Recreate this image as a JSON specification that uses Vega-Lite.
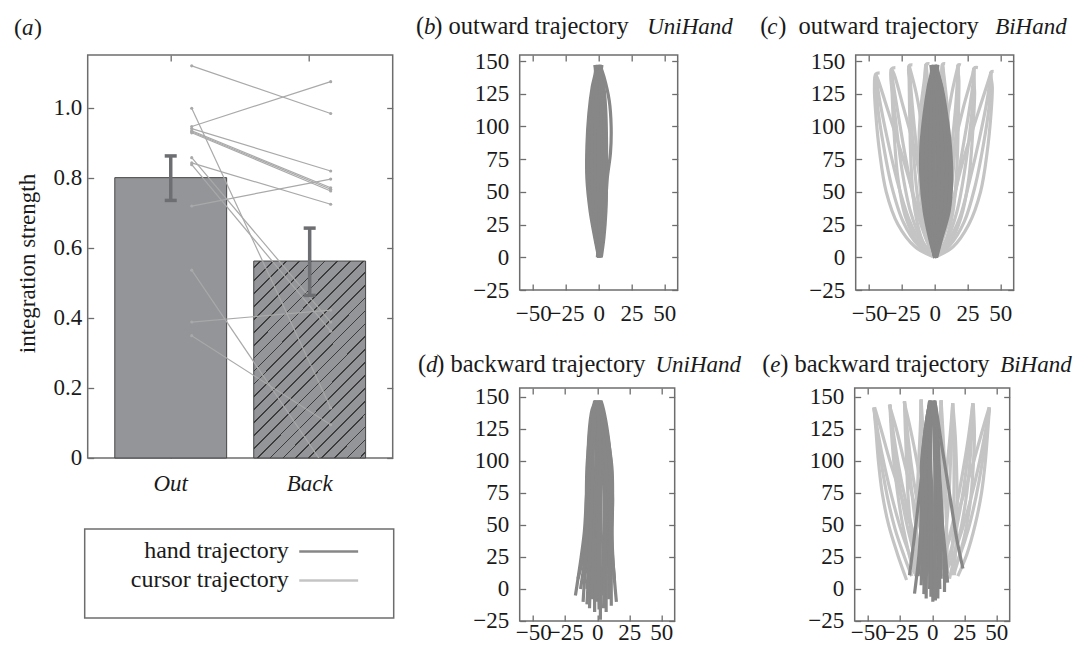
{
"$schema": "https://vega.github.io/schema/vega-lite/v6.json",
"background": "white",
"padding": {"left": 11.7, "top": 12, "right": 0, "bottom": 0},
"autosize": {"type": "pad"},
"datasets": {
"bars": [{"cond":"Out","mean":0.80,"lo":0.735,"hi":0.862},{"cond":"Back","mean":0.562,"lo":0.464,"hi":0.656}],
"subj": [
{"s":1,"cond":"Out","v":1.119},{"s":1,"cond":"Back","v":0.983},
{"s":2,"cond":"Out","v":0.946},{"s":2,"cond":"Back","v":1.074},
{"s":3,"cond":"Out","v":0.940},{"s":3,"cond":"Back","v":0.819},
{"s":4,"cond":"Out","v":0.934},{"s":4,"cond":"Back","v":0.771},
{"s":5,"cond":"Out","v":0.931},{"s":5,"cond":"Back","v":0.767},
{"s":6,"cond":"Out","v":0.928},{"s":6,"cond":"Back","v":0.762},
{"s":7,"cond":"Out","v":0.998},{"s":7,"cond":"Back","v":0.143},
{"s":8,"cond":"Out","v":0.857},{"s":8,"cond":"Back","v":0.388},
{"s":9,"cond":"Out","v":0.837},{"s":9,"cond":"Back","v":0.362},
{"s":10,"cond":"Out","v":0.842},{"s":10,"cond":"Back","v":0.724},
{"s":11,"cond":"Out","v":0.719},{"s":11,"cond":"Back","v":0.796},
{"s":12,"cond":"Out","v":0.536},{"s":12,"cond":"Back","v":-0.05},
{"s":13,"cond":"Out","v":0.388},{"s":13,"cond":"Back","v":0.422},
{"s":14,"cond":"Out","v":0.349},{"s":14,"cond":"Back","v":0.095}
],
"b": [
{"t":"h","id":1,"x":0,"y":0},{"t":"h","id":1,"x":-3,"y":15},{"t":"h","id":1,"x":-6.5,"y":35},{"t":"h","id":1,"x":-9,"y":60},{"t":"h","id":1,"x":-9,"y":85},{"t":"h","id":1,"x":-7.5,"y":110},{"t":"h","id":1,"x":-5,"y":130},{"t":"h","id":1,"x":-2.5,"y":142},{"t":"h","id":1,"x":-3,"y":147},
{"t":"h","id":2,"x":0.5,"y":0},{"t":"h","id":2,"x":-2,"y":15},{"t":"h","id":2,"x":-4.5,"y":35},{"t":"h","id":2,"x":-6.5,"y":60},{"t":"h","id":2,"x":-6.5,"y":85},{"t":"h","id":2,"x":-5.5,"y":110},{"t":"h","id":2,"x":-3.5,"y":130},{"t":"h","id":2,"x":-1.5,"y":142},{"t":"h","id":2,"x":-2,"y":147},
{"t":"h","id":3,"x":0,"y":0},{"t":"h","id":3,"x":-1,"y":15},{"t":"h","id":3,"x":-2.5,"y":35},{"t":"h","id":3,"x":-4,"y":60},{"t":"h","id":3,"x":-4,"y":85},{"t":"h","id":3,"x":-3.5,"y":110},{"t":"h","id":3,"x":-2,"y":130},{"t":"h","id":3,"x":-1,"y":142},{"t":"h","id":3,"x":-1,"y":147},
{"t":"h","id":4,"x":1,"y":0},{"t":"h","id":4,"x":0,"y":15},{"t":"h","id":4,"x":-1,"y":35},{"t":"h","id":4,"x":-1.5,"y":60},{"t":"h","id":4,"x":-1.5,"y":85},{"t":"h","id":4,"x":-1.2,"y":110},{"t":"h","id":4,"x":-0.5,"y":130},{"t":"h","id":4,"x":0,"y":142},{"t":"h","id":4,"x":0,"y":147},
{"t":"h","id":5,"x":-1,"y":0},{"t":"h","id":5,"x":0,"y":15},{"t":"h","id":5,"x":1,"y":35},{"t":"h","id":5,"x":1,"y":60},{"t":"h","id":5,"x":1.2,"y":85},{"t":"h","id":5,"x":1,"y":110},{"t":"h","id":5,"x":0.5,"y":130},{"t":"h","id":5,"x":0.5,"y":142},{"t":"h","id":5,"x":1,"y":147},
{"t":"h","id":6,"x":0.5,"y":0},{"t":"h","id":6,"x":1.5,"y":15},{"t":"h","id":6,"x":3,"y":35},{"t":"h","id":6,"x":3.5,"y":60},{"t":"h","id":6,"x":3.5,"y":85},{"t":"h","id":6,"x":3,"y":110},{"t":"h","id":6,"x":2,"y":130},{"t":"h","id":6,"x":1,"y":142},{"t":"h","id":6,"x":1.5,"y":147},
{"t":"h","id":7,"x":1,"y":0},{"t":"h","id":7,"x":2.5,"y":15},{"t":"h","id":7,"x":4,"y":35},{"t":"h","id":7,"x":5,"y":60},{"t":"h","id":7,"x":5,"y":85},{"t":"h","id":7,"x":4.5,"y":110},{"t":"h","id":7,"x":3,"y":130},{"t":"h","id":7,"x":1.5,"y":142},{"t":"h","id":7,"x":2,"y":147},
{"t":"h","id":8,"x":2,"y":0},{"t":"h","id":8,"x":4,"y":15},{"t":"h","id":8,"x":5.5,"y":35},{"t":"h","id":8,"x":6,"y":60},{"t":"h","id":8,"x":6,"y":85},{"t":"h","id":8,"x":5.5,"y":110},{"t":"h","id":8,"x":4,"y":130},{"t":"h","id":8,"x":2,"y":142},{"t":"h","id":8,"x":2.5,"y":147},
{"t":"h","id":9,"x":1,"y":0},{"t":"h","id":9,"x":3,"y":15},{"t":"h","id":9,"x":5,"y":35},{"t":"h","id":9,"x":6.5,"y":60},{"t":"h","id":9,"x":9,"y":80},{"t":"h","id":9,"x":9.5,"y":100},{"t":"h","id":9,"x":8,"y":120},{"t":"h","id":9,"x":4,"y":138},{"t":"h","id":9,"x":1,"y":147},
{"t":"h","id":10,"x":0.3,"y":0},{"t":"h","id":10,"x":-2.5,"y":15},{"t":"h","id":10,"x":-5.5,"y":35},{"t":"h","id":10,"x":-7.8,"y":60},{"t":"h","id":10,"x":-7.8,"y":85},{"t":"h","id":10,"x":-6.5,"y":110},{"t":"h","id":10,"x":-4.2,"y":130},{"t":"h","id":10,"x":-2,"y":142},{"t":"h","id":10,"x":-2.5,"y":147},
{"t":"h","id":11,"x":0.2,"y":0},{"t":"h","id":11,"x":-1.5,"y":15},{"t":"h","id":11,"x":-3.5,"y":35},{"t":"h","id":11,"x":-5.2,"y":60},{"t":"h","id":11,"x":-5.2,"y":85},{"t":"h","id":11,"x":-4.5,"y":110},{"t":"h","id":11,"x":-2.8,"y":130},{"t":"h","id":11,"x":-1.2,"y":142},{"t":"h","id":11,"x":-1.5,"y":147},
{"t":"h","id":12,"x":0.5,"y":0},{"t":"h","id":12,"x":-0.5,"y":15},{"t":"h","id":12,"x":-1.8,"y":35},{"t":"h","id":12,"x":-2.7,"y":60},{"t":"h","id":12,"x":-2.7,"y":85},{"t":"h","id":12,"x":-2.3,"y":110},{"t":"h","id":12,"x":-1.2,"y":130},{"t":"h","id":12,"x":-0.5,"y":142},{"t":"h","id":12,"x":-0.5,"y":147},
{"t":"h","id":13,"x":0,"y":0},{"t":"h","id":13,"x":0,"y":15},{"t":"h","id":13,"x":0,"y":35},{"t":"h","id":13,"x":-0.2,"y":60},{"t":"h","id":13,"x":-0.2,"y":85},{"t":"h","id":13,"x":-0.1,"y":110},{"t":"h","id":13,"x":0,"y":130},{"t":"h","id":13,"x":0.2,"y":142},{"t":"h","id":13,"x":0.5,"y":147},
{"t":"h","id":14,"x":0,"y":0},{"t":"h","id":14,"x":1,"y":15},{"t":"h","id":14,"x":2,"y":35},{"t":"h","id":14,"x":2.2,"y":60},{"t":"h","id":14,"x":2.3,"y":85},{"t":"h","id":14,"x":2,"y":110},{"t":"h","id":14,"x":1.2,"y":130},{"t":"h","id":14,"x":0.8,"y":142},{"t":"h","id":14,"x":1.2,"y":147},
{"t":"h","id":15,"x":1.5,"y":0},{"t":"h","id":15,"x":3,"y":15},{"t":"h","id":15,"x":4.2,"y":35},{"t":"h","id":15,"x":4.3,"y":60},{"t":"h","id":15,"x":4.3,"y":85},{"t":"h","id":15,"x":3.8,"y":110},{"t":"h","id":15,"x":2.5,"y":130},{"t":"h","id":15,"x":1.2,"y":142},{"t":"h","id":15,"x":1.8,"y":147}
],
"c": [
{"t":"c","id":11,"x":0,"y":0},{"t":"c","id":11,"x":-15,"y":8},{"t":"c","id":11,"x":-28,"y":25},{"t":"c","id":11,"x":-37,"y":50},{"t":"c","id":11,"x":-42,"y":80},{"t":"c","id":11,"x":-45,"y":110},{"t":"c","id":11,"x":-46,"y":130},{"t":"c","id":11,"x":-45,"y":140},{"t":"c","id":11,"x":-42,"y":141},
{"t":"c","id":12,"x":0,"y":0},{"t":"c","id":12,"x":-10,"y":10},{"t":"c","id":12,"x":-20,"y":30},{"t":"c","id":12,"x":-29,"y":60},{"t":"c","id":12,"x":-36,"y":90},{"t":"c","id":12,"x":-42,"y":120},{"t":"c","id":12,"x":-45,"y":140},
{"t":"c","id":13,"x":0,"y":0},{"t":"c","id":13,"x":-6,"y":15},{"t":"c","id":13,"x":-14,"y":40},{"t":"c","id":13,"x":-24,"y":75},{"t":"c","id":13,"x":-35,"y":110},{"t":"c","id":13,"x":-43,"y":135},{"t":"c","id":13,"x":-45,"y":140},
{"t":"c","id":14,"x":0,"y":0},{"t":"c","id":14,"x":-12,"y":10},{"t":"c","id":14,"x":-22,"y":30},{"t":"c","id":14,"x":-28,"y":60},{"t":"c","id":14,"x":-31,"y":95},{"t":"c","id":14,"x":-32.5,"y":125},{"t":"c","id":14,"x":-33,"y":144},{"t":"c","id":14,"x":-30,"y":145},
{"t":"c","id":15,"x":0,"y":0},{"t":"c","id":15,"x":-7,"y":15},{"t":"c","id":15,"x":-15,"y":40},{"t":"c","id":15,"x":-22,"y":75},{"t":"c","id":15,"x":-28,"y":110},{"t":"c","id":15,"x":-32,"y":135},{"t":"c","id":15,"x":-33,"y":144},
{"t":"c","id":16,"x":0,"y":0},{"t":"c","id":16,"x":-4,"y":20},{"t":"c","id":16,"x":-9,"y":50},{"t":"c","id":16,"x":-16,"y":85},{"t":"c","id":16,"x":-24,"y":115},{"t":"c","id":16,"x":-31,"y":140},{"t":"c","id":16,"x":-33,"y":144},
{"t":"c","id":17,"x":0,"y":0},{"t":"c","id":17,"x":-9,"y":12},{"t":"c","id":17,"x":-15,"y":35},{"t":"c","id":17,"x":-18,"y":70},{"t":"c","id":17,"x":-19,"y":105},{"t":"c","id":17,"x":-19.5,"y":135},{"t":"c","id":17,"x":-19.5,"y":146.5},{"t":"c","id":17,"x":-17,"y":147},
{"t":"c","id":18,"x":0,"y":0},{"t":"c","id":18,"x":-5,"y":20},{"t":"c","id":18,"x":-10,"y":50},{"t":"c","id":18,"x":-14,"y":85},{"t":"c","id":18,"x":-17,"y":115},{"t":"c","id":18,"x":-19.5,"y":146.5},
{"t":"c","id":19,"x":0,"y":0},{"t":"c","id":19,"x":-2,"y":25},{"t":"c","id":19,"x":-5,"y":60},{"t":"c","id":19,"x":-9,"y":95},{"t":"c","id":19,"x":-14,"y":125},{"t":"c","id":19,"x":-19.5,"y":146.5},
{"t":"c","id":20,"x":0,"y":0},{"t":"c","id":20,"x":-6,"y":15},{"t":"c","id":20,"x":-10,"y":40},{"t":"c","id":20,"x":-12,"y":75},{"t":"c","id":20,"x":-11,"y":110},{"t":"c","id":20,"x":-8,"y":135},{"t":"c","id":20,"x":-6.5,"y":147.5},
{"t":"c","id":21,"x":0,"y":0},{"t":"c","id":21,"x":-3,"y":25},{"t":"c","id":21,"x":-5,"y":60},{"t":"c","id":21,"x":-6,"y":95},{"t":"c","id":21,"x":-6.5,"y":125},{"t":"c","id":21,"x":-6.5,"y":147.5},{"t":"c","id":21,"x":-4,"y":148},
{"t":"c","id":22,"x":0,"y":0},{"t":"c","id":22,"x":-1,"y":30},{"t":"c","id":22,"x":-2,"y":70},{"t":"c","id":22,"x":-3,"y":105},{"t":"c","id":22,"x":-5,"y":130},{"t":"c","id":22,"x":-6.5,"y":147.5},
{"t":"c","id":23,"x":0,"y":0},{"t":"c","id":23,"x":5,"y":15},{"t":"c","id":23,"x":9,"y":40},{"t":"c","id":23,"x":11,"y":75},{"t":"c","id":23,"x":10,"y":110},{"t":"c","id":23,"x":7.5,"y":135},{"t":"c","id":23,"x":6,"y":147.5},
{"t":"c","id":24,"x":0,"y":0},{"t":"c","id":24,"x":2.5,"y":25},{"t":"c","id":24,"x":4.5,"y":60},{"t":"c","id":24,"x":5.5,"y":95},{"t":"c","id":24,"x":6,"y":125},{"t":"c","id":24,"x":6,"y":147.5},{"t":"c","id":24,"x":8,"y":148},
{"t":"c","id":25,"x":0,"y":0},{"t":"c","id":25,"x":1,"y":30},{"t":"c","id":25,"x":2,"y":70},{"t":"c","id":25,"x":3,"y":105},{"t":"c","id":25,"x":4.5,"y":130},{"t":"c","id":25,"x":6,"y":147.5},
{"t":"c","id":26,"x":0,"y":0},{"t":"c","id":26,"x":8,"y":12},{"t":"c","id":26,"x":14,"y":35},{"t":"c","id":26,"x":17,"y":70},{"t":"c","id":26,"x":18,"y":105},{"t":"c","id":26,"x":18.5,"y":135},{"t":"c","id":26,"x":18,"y":147},{"t":"c","id":26,"x":20,"y":147},
{"t":"c","id":27,"x":0,"y":0},{"t":"c","id":27,"x":4.5,"y":20},{"t":"c","id":27,"x":9,"y":50},{"t":"c","id":27,"x":13,"y":85},{"t":"c","id":27,"x":16,"y":115},{"t":"c","id":27,"x":18,"y":147},
{"t":"c","id":28,"x":0,"y":0},{"t":"c","id":28,"x":2,"y":25},{"t":"c","id":28,"x":4.5,"y":60},{"t":"c","id":28,"x":8,"y":95},{"t":"c","id":28,"x":13,"y":125},{"t":"c","id":28,"x":18,"y":147},
{"t":"c","id":29,"x":0,"y":0},{"t":"c","id":29,"x":11,"y":10},{"t":"c","id":29,"x":20,"y":30},{"t":"c","id":29,"x":26,"y":60},{"t":"c","id":29,"x":29,"y":95},{"t":"c","id":29,"x":30.5,"y":125},{"t":"c","id":29,"x":30,"y":144.5},{"t":"c","id":29,"x":33,"y":145},
{"t":"c","id":30,"x":0,"y":0},{"t":"c","id":30,"x":6.5,"y":15},{"t":"c","id":30,"x":14,"y":40},{"t":"c","id":30,"x":20,"y":75},{"t":"c","id":30,"x":26,"y":110},{"t":"c","id":30,"x":29.5,"y":135},{"t":"c","id":30,"x":30,"y":144.5},
{"t":"c","id":31,"x":0,"y":0},{"t":"c","id":31,"x":3.5,"y":20},{"t":"c","id":31,"x":8.5,"y":50},{"t":"c","id":31,"x":15,"y":85},{"t":"c","id":31,"x":22,"y":115},{"t":"c","id":31,"x":29,"y":140},{"t":"c","id":31,"x":30,"y":144.5},
{"t":"c","id":32,"x":0,"y":0},{"t":"c","id":32,"x":14,"y":8},{"t":"c","id":32,"x":26,"y":25},{"t":"c","id":32,"x":35,"y":50},{"t":"c","id":32,"x":40,"y":80},{"t":"c","id":32,"x":43,"y":110},{"t":"c","id":32,"x":44,"y":130},{"t":"c","id":32,"x":43,"y":141.5},{"t":"c","id":32,"x":45,"y":142},
{"t":"c","id":33,"x":0,"y":0},{"t":"c","id":33,"x":9,"y":10},{"t":"c","id":33,"x":19,"y":30},{"t":"c","id":33,"x":27,"y":60},{"t":"c","id":33,"x":34,"y":90},{"t":"c","id":33,"x":40,"y":120},{"t":"c","id":33,"x":43,"y":141.5},
{"t":"c","id":34,"x":0,"y":0},{"t":"c","id":34,"x":5.5,"y":15},{"t":"c","id":34,"x":13,"y":40},{"t":"c","id":34,"x":22,"y":75},{"t":"c","id":34,"x":33,"y":110},{"t":"c","id":34,"x":41,"y":135},{"t":"c","id":34,"x":43,"y":141.5},
{"t":"c","id":35,"x":0,"y":0},{"t":"c","id":35,"x":-12.5,"y":9},{"t":"c","id":35,"x":-24,"y":27},{"t":"c","id":35,"x":-33,"y":55},{"t":"c","id":35,"x":-39,"y":85},{"t":"c","id":35,"x":-43.5,"y":115},{"t":"c","id":35,"x":-45,"y":140},
{"t":"c","id":36,"x":0,"y":0},{"t":"c","id":36,"x":-9.5,"y":12},{"t":"c","id":36,"x":-18.5,"y":35},{"t":"c","id":36,"x":-25,"y":67},{"t":"c","id":36,"x":-29.5,"y":102},{"t":"c","id":36,"x":-32.5,"y":130},{"t":"c","id":36,"x":-33,"y":144},
{"t":"c","id":37,"x":0,"y":0},{"t":"c","id":37,"x":-7,"y":16},{"t":"c","id":37,"x":-12.5,"y":42},{"t":"c","id":37,"x":-16,"y":77},{"t":"c","id":37,"x":-18,"y":110},{"t":"c","id":37,"x":-19.5,"y":146.5},
{"t":"c","id":38,"x":0,"y":0},{"t":"c","id":38,"x":-4.5,"y":20},{"t":"c","id":38,"x":-7.5,"y":50},{"t":"c","id":38,"x":-9,"y":85},{"t":"c","id":38,"x":-8.5,"y":118},{"t":"c","id":38,"x":-6.5,"y":147.5},
{"t":"c","id":39,"x":0,"y":0},{"t":"c","id":39,"x":3.8,"y":20},{"t":"c","id":39,"x":6.8,"y":50},{"t":"c","id":39,"x":8.3,"y":85},{"t":"c","id":39,"x":8,"y":118},{"t":"c","id":39,"x":6,"y":147.5},
{"t":"c","id":40,"x":0,"y":0},{"t":"c","id":40,"x":6.3,"y":16},{"t":"c","id":40,"x":11.5,"y":42},{"t":"c","id":40,"x":15,"y":77},{"t":"c","id":40,"x":17,"y":110},{"t":"c","id":40,"x":18,"y":147},
{"t":"c","id":41,"x":0,"y":0},{"t":"c","id":41,"x":8.8,"y":12},{"t":"c","id":41,"x":17,"y":35},{"t":"c","id":41,"x":23,"y":67},{"t":"c","id":41,"x":27.5,"y":102},{"t":"c","id":41,"x":30,"y":130},{"t":"c","id":41,"x":30,"y":144.5},
{"t":"c","id":42,"x":0,"y":0},{"t":"c","id":42,"x":11.5,"y":9},{"t":"c","id":42,"x":22.5,"y":27},{"t":"c","id":42,"x":31,"y":55},{"t":"c","id":42,"x":37,"y":85},{"t":"c","id":42,"x":41.5,"y":115},{"t":"c","id":42,"x":43,"y":141.5},
{"t":"h","id":1,"x":0,"y":0},{"t":"h","id":1,"x":-4,"y":15},{"t":"h","id":1,"x":-8,"y":35},{"t":"h","id":1,"x":-10.5,"y":60},{"t":"h","id":1,"x":-10.5,"y":85},{"t":"h","id":1,"x":-8,"y":110},{"t":"h","id":1,"x":-5,"y":130},{"t":"h","id":1,"x":-2.5,"y":142},{"t":"h","id":1,"x":-3,"y":147},
{"t":"h","id":2,"x":0,"y":0},{"t":"h","id":2,"x":-3,"y":15},{"t":"h","id":2,"x":-6,"y":35},{"t":"h","id":2,"x":-8,"y":60},{"t":"h","id":2,"x":-8,"y":85},{"t":"h","id":2,"x":-6.5,"y":110},{"t":"h","id":2,"x":-4,"y":130},{"t":"h","id":2,"x":-2,"y":142},{"t":"h","id":2,"x":-2,"y":147},
{"t":"h","id":3,"x":0,"y":0},{"t":"h","id":3,"x":-2,"y":15},{"t":"h","id":3,"x":-3.5,"y":35},{"t":"h","id":3,"x":-5,"y":60},{"t":"h","id":3,"x":-5,"y":85},{"t":"h","id":3,"x":-4,"y":110},{"t":"h","id":3,"x":-2.5,"y":130},{"t":"h","id":3,"x":-1,"y":142},{"t":"h","id":3,"x":-1,"y":147},
{"t":"h","id":4,"x":0.5,"y":0},{"t":"h","id":4,"x":-0.5,"y":15},{"t":"h","id":4,"x":-1.5,"y":35},{"t":"h","id":4,"x":-2,"y":60},{"t":"h","id":4,"x":-2,"y":85},{"t":"h","id":4,"x":-1.5,"y":110},{"t":"h","id":4,"x":-1,"y":130},{"t":"h","id":4,"x":0,"y":142},{"t":"h","id":4,"x":0,"y":147},
{"t":"h","id":5,"x":0,"y":0},{"t":"h","id":5,"x":0.5,"y":15},{"t":"h","id":5,"x":1,"y":35},{"t":"h","id":5,"x":1.5,"y":60},{"t":"h","id":5,"x":1.5,"y":85},{"t":"h","id":5,"x":1,"y":110},{"t":"h","id":5,"x":0.5,"y":130},{"t":"h","id":5,"x":0.5,"y":142},{"t":"h","id":5,"x":1,"y":147},
{"t":"h","id":6,"x":0.5,"y":0},{"t":"h","id":6,"x":2,"y":15},{"t":"h","id":6,"x":3.5,"y":35},{"t":"h","id":6,"x":4.5,"y":60},{"t":"h","id":6,"x":4,"y":85},{"t":"h","id":6,"x":3,"y":110},{"t":"h","id":6,"x":2,"y":130},{"t":"h","id":6,"x":1,"y":142},{"t":"h","id":6,"x":1.5,"y":147},
{"t":"h","id":7,"x":1,"y":0},{"t":"h","id":7,"x":3,"y":15},{"t":"h","id":7,"x":6,"y":35},{"t":"h","id":7,"x":7.5,"y":60},{"t":"h","id":7,"x":7,"y":85},{"t":"h","id":7,"x":5.5,"y":110},{"t":"h","id":7,"x":3.5,"y":130},{"t":"h","id":7,"x":1.5,"y":142},{"t":"h","id":7,"x":2,"y":147},
{"t":"h","id":8,"x":1,"y":0},{"t":"h","id":8,"x":4.5,"y":15},{"t":"h","id":8,"x":9,"y":35},{"t":"h","id":8,"x":11,"y":60},{"t":"h","id":8,"x":10,"y":85},{"t":"h","id":8,"x":7.5,"y":110},{"t":"h","id":8,"x":5,"y":130},{"t":"h","id":8,"x":2,"y":142},{"t":"h","id":8,"x":2.5,"y":147},
{"t":"h","id":9,"x":1.5,"y":0},{"t":"h","id":9,"x":5.5,"y":15},{"t":"h","id":9,"x":11,"y":35},{"t":"h","id":9,"x":13,"y":60},{"t":"h","id":9,"x":12,"y":85},{"t":"h","id":9,"x":9,"y":110},{"t":"h","id":9,"x":5.5,"y":130},{"t":"h","id":9,"x":2.5,"y":142},{"t":"h","id":9,"x":2,"y":147},
{"t":"h","id":10,"x":0,"y":0},{"t":"h","id":10,"x":-3.5,"y":15},{"t":"h","id":10,"x":-7,"y":35},{"t":"h","id":10,"x":-9.2,"y":60},{"t":"h","id":10,"x":-9.2,"y":85},{"t":"h","id":10,"x":-7.2,"y":110},{"t":"h","id":10,"x":-4.5,"y":130},{"t":"h","id":10,"x":-2.2,"y":142},{"t":"h","id":10,"x":-2.5,"y":147},
{"t":"h","id":11,"x":0,"y":0},{"t":"h","id":11,"x":-2.5,"y":15},{"t":"h","id":11,"x":-4.8,"y":35},{"t":"h","id":11,"x":-6.5,"y":60},{"t":"h","id":11,"x":-6.5,"y":85},{"t":"h","id":11,"x":-5.2,"y":110},{"t":"h","id":11,"x":-3.2,"y":130},{"t":"h","id":11,"x":-1.5,"y":142},{"t":"h","id":11,"x":-1.5,"y":147},
{"t":"h","id":12,"x":0.2,"y":0},{"t":"h","id":12,"x":-1.2,"y":15},{"t":"h","id":12,"x":-2.5,"y":35},{"t":"h","id":12,"x":-3.5,"y":60},{"t":"h","id":12,"x":-3.5,"y":85},{"t":"h","id":12,"x":-2.8,"y":110},{"t":"h","id":12,"x":-1.8,"y":130},{"t":"h","id":12,"x":-0.5,"y":142},{"t":"h","id":12,"x":-0.5,"y":147},
{"t":"h","id":13,"x":0.3,"y":0},{"t":"h","id":13,"x":0,"y":15},{"t":"h","id":13,"x":-0.2,"y":35},{"t":"h","id":13,"x":-0.3,"y":60},{"t":"h","id":13,"x":-0.3,"y":85},{"t":"h","id":13,"x":-0.2,"y":110},{"t":"h","id":13,"x":-0.2,"y":130},{"t":"h","id":13,"x":0.2,"y":142},{"t":"h","id":13,"x":0.5,"y":147},
{"t":"h","id":14,"x":0.5,"y":0},{"t":"h","id":14,"x":1.2,"y":15},{"t":"h","id":14,"x":2.2,"y":35},{"t":"h","id":14,"x":3,"y":60},{"t":"h","id":14,"x":2.8,"y":85},{"t":"h","id":14,"x":2,"y":110},{"t":"h","id":14,"x":1.2,"y":130},{"t":"h","id":14,"x":0.8,"y":142},{"t":"h","id":14,"x":1.2,"y":147},
{"t":"h","id":15,"x":0.8,"y":0},{"t":"h","id":15,"x":2.5,"y":15},{"t":"h","id":15,"x":4.8,"y":35},{"t":"h","id":15,"x":6,"y":60},{"t":"h","id":15,"x":5.5,"y":85},{"t":"h","id":15,"x":4.2,"y":110},{"t":"h","id":15,"x":2.8,"y":130},{"t":"h","id":15,"x":1.2,"y":142},{"t":"h","id":15,"x":1.8,"y":147},
{"t":"h","id":16,"x":1,"y":0},{"t":"h","id":16,"x":3.8,"y":15},{"t":"h","id":16,"x":7.5,"y":35},{"t":"h","id":16,"x":9.3,"y":60},{"t":"h","id":16,"x":8.5,"y":85},{"t":"h","id":16,"x":6.5,"y":110},{"t":"h","id":16,"x":4.2,"y":130},{"t":"h","id":16,"x":1.8,"y":142},{"t":"h","id":16,"x":2.2,"y":147},
{"t":"h","id":17,"x":1.2,"y":0},{"t":"h","id":17,"x":5,"y":15},{"t":"h","id":17,"x":10,"y":35},{"t":"h","id":17,"x":12,"y":60},{"t":"h","id":17,"x":11,"y":85},{"t":"h","id":17,"x":8.2,"y":110},{"t":"h","id":17,"x":5.2,"y":130},{"t":"h","id":17,"x":2.2,"y":142},{"t":"h","id":17,"x":2,"y":147}
],
"d": [
{"t":"h","id":1,"x":0,"y":147},{"t":"h","id":1,"x":-2,"y":140},{"t":"h","id":1,"x":-5,"y":120},{"t":"h","id":1,"x":-7,"y":95},{"t":"h","id":1,"x":-8.5,"y":70},{"t":"h","id":1,"x":-10,"y":45},{"t":"h","id":1,"x":-12.5,"y":25},{"t":"h","id":1,"x":-15,"y":8},{"t":"h","id":1,"x":-17,"y":-5},
{"t":"h","id":2,"x":-1,"y":147},{"t":"h","id":2,"x":-3,"y":140},{"t":"h","id":2,"x":-6,"y":120},{"t":"h","id":2,"x":-8,"y":95},{"t":"h","id":2,"x":-8.5,"y":70},{"t":"h","id":2,"x":-9,"y":45},{"t":"h","id":2,"x":-11,"y":25},{"t":"h","id":2,"x":-15,"y":8},
{"t":"h","id":3,"x":1,"y":147},{"t":"h","id":3,"x":-1,"y":140},{"t":"h","id":3,"x":-3,"y":120},{"t":"h","id":3,"x":-5,"y":95},{"t":"h","id":3,"x":-6,"y":70},{"t":"h","id":3,"x":-7,"y":45},{"t":"h","id":3,"x":-8,"y":25},{"t":"h","id":3,"x":-10,"y":5},{"t":"h","id":3,"x":-11,"y":-10},
{"t":"h","id":4,"x":-2,"y":147},{"t":"h","id":4,"x":-3,"y":140},{"t":"h","id":4,"x":-4,"y":120},{"t":"h","id":4,"x":-3,"y":95},{"t":"h","id":4,"x":-3,"y":70},{"t":"h","id":4,"x":-4,"y":45},{"t":"h","id":4,"x":-5,"y":20},{"t":"h","id":4,"x":-6,"y":-15},
{"t":"h","id":5,"x":0,"y":147},{"t":"h","id":5,"x":0,"y":140},{"t":"h","id":5,"x":-1,"y":120},{"t":"h","id":5,"x":-1,"y":95},{"t":"h","id":5,"x":-1.5,"y":70},{"t":"h","id":5,"x":-2,"y":40},{"t":"h","id":5,"x":-2,"y":10},{"t":"h","id":5,"x":-2,"y":-18},
{"t":"h","id":6,"x":1,"y":147},{"t":"h","id":6,"x":2,"y":140},{"t":"h","id":6,"x":3,"y":120},{"t":"h","id":6,"x":3.5,"y":95},{"t":"h","id":6,"x":3,"y":70},{"t":"h","id":6,"x":2.5,"y":40},{"t":"h","id":6,"x":2.5,"y":10},{"t":"h","id":6,"x":2.5,"y":-24},
{"t":"h","id":7,"x":2,"y":147},{"t":"h","id":7,"x":3,"y":140},{"t":"h","id":7,"x":6,"y":120},{"t":"h","id":7,"x":8,"y":95},{"t":"h","id":7,"x":8,"y":70},{"t":"h","id":7,"x":7.5,"y":40},{"t":"h","id":7,"x":7,"y":10},{"t":"h","id":7,"x":7,"y":-18},
{"t":"h","id":8,"x":3,"y":147},{"t":"h","id":8,"x":5,"y":140},{"t":"h","id":8,"x":8.5,"y":120},{"t":"h","id":8,"x":11,"y":95},{"t":"h","id":8,"x":12,"y":70},{"t":"h","id":8,"x":11.5,"y":45},{"t":"h","id":8,"x":11,"y":15},{"t":"h","id":8,"x":11,"y":-13},
{"t":"h","id":9,"x":2,"y":147},{"t":"h","id":9,"x":4,"y":140},{"t":"h","id":9,"x":8,"y":120},{"t":"h","id":9,"x":11.5,"y":95},{"t":"h","id":9,"x":12,"y":70},{"t":"h","id":9,"x":11.5,"y":45},{"t":"h","id":9,"x":12.5,"y":20},{"t":"h","id":9,"x":15,"y":-10},
{"t":"h","id":10,"x":1,"y":147},{"t":"h","id":10,"x":3,"y":140},{"t":"h","id":10,"x":6,"y":120},{"t":"h","id":10,"x":9,"y":95},{"t":"h","id":10,"x":10.5,"y":70},{"t":"h","id":10,"x":11,"y":45},{"t":"h","id":10,"x":12,"y":25},{"t":"h","id":10,"x":13.5,"y":8},
{"t":"h","id":11,"x":-1,"y":147},{"t":"h","id":11,"x":-4,"y":140},{"t":"h","id":11,"x":-6.5,"y":120},{"t":"h","id":11,"x":-7,"y":95},{"t":"h","id":11,"x":-6,"y":70},{"t":"h","id":11,"x":-5.5,"y":45},{"t":"h","id":11,"x":-6.5,"y":20},{"t":"h","id":11,"x":-8,"y":0},
{"t":"h","id":12,"x":0,"y":147},{"t":"h","id":12,"x":1,"y":140},{"t":"h","id":12,"x":1,"y":120},{"t":"h","id":12,"x":0.5,"y":95},{"t":"h","id":12,"x":0,"y":70},{"t":"h","id":12,"x":0,"y":40},{"t":"h","id":12,"x":0,"y":10},{"t":"h","id":12,"x":0,"y":-10},
{"t":"h","id":13,"x":1.5,"y":147},{"t":"h","id":13,"x":1.5,"y":140},{"t":"h","id":13,"x":4,"y":120},{"t":"h","id":13,"x":5.5,"y":95},{"t":"h","id":13,"x":5.5,"y":70},{"t":"h","id":13,"x":5,"y":40},{"t":"h","id":13,"x":5,"y":15},{"t":"h","id":13,"x":5,"y":-5},
{"t":"h","id":14,"x":-0.5,"y":147},{"t":"h","id":14,"x":-2,"y":140},{"t":"h","id":14,"x":-2,"y":120},{"t":"h","id":14,"x":-5.5,"y":95},{"t":"h","id":14,"x":-5,"y":70},{"t":"h","id":14,"x":-3,"y":40},{"t":"h","id":14,"x":-3.5,"y":15},{"t":"h","id":14,"x":-4,"y":-8},
{"t":"h","id":15,"x":0.5,"y":147},{"t":"h","id":15,"x":-1,"y":140},{"t":"h","id":15,"x":-2.5,"y":120},{"t":"h","id":15,"x":-3.5,"y":95},{"t":"h","id":15,"x":-4,"y":70},{"t":"h","id":15,"x":-5,"y":45},{"t":"h","id":15,"x":-6,"y":25},{"t":"h","id":15,"x":-8,"y":-12},
{"t":"h","id":16,"x":2,"y":147},{"t":"h","id":16,"x":3,"y":140},{"t":"h","id":16,"x":4.5,"y":120},{"t":"h","id":16,"x":6,"y":95},{"t":"h","id":16,"x":6.5,"y":70},{"t":"h","id":16,"x":6,"y":45},{"t":"h","id":16,"x":5.5,"y":20},{"t":"h","id":16,"x":5,"y":-15},
{"t":"h","id":17,"x":1,"y":147},{"t":"h","id":17,"x":2.5,"y":140},{"t":"h","id":17,"x":5,"y":120},{"t":"h","id":17,"x":7,"y":95},{"t":"h","id":17,"x":9,"y":70},{"t":"h","id":17,"x":9.5,"y":45},{"t":"h","id":17,"x":9,"y":20},{"t":"h","id":17,"x":9,"y":-8},
{"t":"h","id":18,"x":-1.5,"y":147},{"t":"h","id":18,"x":-2.5,"y":140},{"t":"h","id":18,"x":-4,"y":120},{"t":"h","id":18,"x":-6,"y":95},{"t":"h","id":18,"x":-7,"y":70},{"t":"h","id":18,"x":-8,"y":45},{"t":"h","id":18,"x":-9.5,"y":25},{"t":"h","id":18,"x":-13,"y":0},
{"t":"h","id":19,"x":0,"y":147},{"t":"h","id":19,"x":0.5,"y":140},{"t":"h","id":19,"x":2,"y":120},{"t":"h","id":19,"x":2,"y":95},{"t":"h","id":19,"x":1.5,"y":70},{"t":"h","id":19,"x":1,"y":40},{"t":"h","id":19,"x":1,"y":10},{"t":"h","id":19,"x":1.5,"y":-16},
{"t":"h","id":20,"x":2.5,"y":147},{"t":"h","id":20,"x":4,"y":140},{"t":"h","id":20,"x":7,"y":120},{"t":"h","id":20,"x":10,"y":95},{"t":"h","id":20,"x":10.5,"y":70},{"t":"h","id":20,"x":10,"y":45},{"t":"h","id":20,"x":9.5,"y":20},{"t":"h","id":20,"x":10,"y":2}
],
"e": [
{"t":"c","id":21,"x":-45.5,"y":141.7},{"t":"c","id":21,"x":-44,"y":125},{"t":"c","id":21,"x":-42,"y":100},{"t":"c","id":21,"x":-39,"y":75},{"t":"c","id":21,"x":-34,"y":50},{"t":"c","id":21,"x":-27,"y":27},{"t":"c","id":21,"x":-20,"y":7},
{"t":"c","id":22,"x":-45.5,"y":141.7},{"t":"c","id":22,"x":-42,"y":120},{"t":"c","id":22,"x":-37,"y":95},{"t":"c","id":22,"x":-31,"y":70},{"t":"c","id":22,"x":-24,"y":45},{"t":"c","id":22,"x":-17,"y":25},{"t":"c","id":22,"x":-12,"y":12},
{"t":"c","id":23,"x":-45,"y":142},{"t":"c","id":23,"x":-40,"y":125},{"t":"c","id":23,"x":-33,"y":100},{"t":"c","id":23,"x":-25,"y":75},{"t":"c","id":23,"x":-17,"y":50},{"t":"c","id":23,"x":-10,"y":28},{"t":"c","id":23,"x":-5,"y":10},
{"t":"c","id":24,"x":-33,"y":144},{"t":"c","id":24,"x":-32,"y":125},{"t":"c","id":24,"x":-30,"y":100},{"t":"c","id":24,"x":-27,"y":75},{"t":"c","id":24,"x":-23,"y":50},{"t":"c","id":24,"x":-18,"y":27},{"t":"c","id":24,"x":-14,"y":12},
{"t":"c","id":25,"x":-33,"y":144},{"t":"c","id":25,"x":-30,"y":120},{"t":"c","id":25,"x":-26,"y":95},{"t":"c","id":25,"x":-21,"y":70},{"t":"c","id":25,"x":-15,"y":45},{"t":"c","id":25,"x":-9,"y":25},{"t":"c","id":25,"x":-5,"y":15},
{"t":"c","id":26,"x":-33.5,"y":144},{"t":"c","id":26,"x":-28,"y":125},{"t":"c","id":26,"x":-22,"y":100},{"t":"c","id":26,"x":-16,"y":75},{"t":"c","id":26,"x":-10,"y":50},{"t":"c","id":26,"x":-5,"y":30},{"t":"c","id":26,"x":-2,"y":18},
{"t":"c","id":27,"x":-21.6,"y":146.6},{"t":"c","id":27,"x":-21,"y":125},{"t":"c","id":27,"x":-20,"y":100},{"t":"c","id":27,"x":-19,"y":75},{"t":"c","id":27,"x":-17,"y":50},{"t":"c","id":27,"x":-15,"y":28},{"t":"c","id":27,"x":-13,"y":10},
{"t":"c","id":28,"x":-21.6,"y":146.6},{"t":"c","id":28,"x":-19,"y":120},{"t":"c","id":28,"x":-16,"y":95},{"t":"c","id":28,"x":-12,"y":70},{"t":"c","id":28,"x":-8,"y":45},{"t":"c","id":28,"x":-5,"y":25},{"t":"c","id":28,"x":-3,"y":12},
{"t":"c","id":29,"x":-22,"y":146.5},{"t":"c","id":29,"x":-17,"y":125},{"t":"c","id":29,"x":-12,"y":100},{"t":"c","id":29,"x":-8,"y":75},{"t":"c","id":29,"x":-4,"y":50},{"t":"c","id":29,"x":-1,"y":30},{"t":"c","id":29,"x":1,"y":15},
{"t":"c","id":30,"x":-8.6,"y":148},{"t":"c","id":30,"x":-9,"y":125},{"t":"c","id":30,"x":-9.5,"y":100},{"t":"c","id":30,"x":-9.5,"y":75},{"t":"c","id":30,"x":-9,"y":50},{"t":"c","id":30,"x":-8,"y":28},{"t":"c","id":30,"x":-7,"y":12},
{"t":"c","id":31,"x":-8.6,"y":148},{"t":"c","id":31,"x":-7,"y":120},{"t":"c","id":31,"x":-5,"y":90},{"t":"c","id":31,"x":-3,"y":60},{"t":"c","id":31,"x":-1,"y":35},{"t":"c","id":31,"x":0,"y":18},
{"t":"c","id":32,"x":-8.6,"y":147.5},{"t":"c","id":32,"x":-9.5,"y":120},{"t":"c","id":32,"x":-11,"y":90},{"t":"c","id":32,"x":-12,"y":60},{"t":"c","id":32,"x":-12.5,"y":35},{"t":"c","id":32,"x":-12.5,"y":12},
{"t":"c","id":33,"x":7,"y":147.4},{"t":"c","id":33,"x":7.5,"y":125},{"t":"c","id":33,"x":8,"y":100},{"t":"c","id":33,"x":8.5,"y":75},{"t":"c","id":33,"x":8,"y":50},{"t":"c","id":33,"x":7,"y":28},{"t":"c","id":33,"x":6,"y":12},
{"t":"c","id":34,"x":7,"y":147.4},{"t":"c","id":34,"x":5.5,"y":120},{"t":"c","id":34,"x":4,"y":90},{"t":"c","id":34,"x":2.5,"y":60},{"t":"c","id":34,"x":1,"y":35},{"t":"c","id":34,"x":0,"y":18},
{"t":"c","id":35,"x":7,"y":147},{"t":"c","id":35,"x":8.5,"y":120},{"t":"c","id":35,"x":10,"y":90},{"t":"c","id":35,"x":11,"y":60},{"t":"c","id":35,"x":11.5,"y":35},{"t":"c","id":35,"x":12,"y":12},
{"t":"c","id":36,"x":16,"y":145},{"t":"c","id":36,"x":16.5,"y":125},{"t":"c","id":36,"x":17,"y":100},{"t":"c","id":36,"x":17,"y":75},{"t":"c","id":36,"x":16.5,"y":50},{"t":"c","id":36,"x":15.5,"y":28},{"t":"c","id":36,"x":14.8,"y":18.5},
{"t":"c","id":37,"x":16,"y":145},{"t":"c","id":37,"x":14,"y":120},{"t":"c","id":37,"x":11.5,"y":95},{"t":"c","id":37,"x":9,"y":70},{"t":"c","id":37,"x":6,"y":45},{"t":"c","id":37,"x":4,"y":25},{"t":"c","id":37,"x":3,"y":12},
{"t":"c","id":38,"x":16,"y":145},{"t":"c","id":38,"x":18,"y":120},{"t":"c","id":38,"x":19,"y":95},{"t":"c","id":38,"x":19.5,"y":70},{"t":"c","id":38,"x":19,"y":45},{"t":"c","id":38,"x":18,"y":25},{"t":"c","id":38,"x":17.4,"y":10.7},
{"t":"c","id":39,"x":31.7,"y":145},{"t":"c","id":39,"x":31,"y":125},{"t":"c","id":39,"x":29.5,"y":100},{"t":"c","id":39,"x":27,"y":75},{"t":"c","id":39,"x":23,"y":50},{"t":"c","id":39,"x":18,"y":28},{"t":"c","id":39,"x":13.5,"y":8},
{"t":"c","id":40,"x":31.7,"y":145},{"t":"c","id":40,"x":28.5,"y":120},{"t":"c","id":40,"x":24.5,"y":95},{"t":"c","id":40,"x":20,"y":70},{"t":"c","id":40,"x":14.5,"y":45},{"t":"c","id":40,"x":9,"y":25},{"t":"c","id":40,"x":5,"y":12},
{"t":"c","id":41,"x":32,"y":145},{"t":"c","id":41,"x":33,"y":120},{"t":"c","id":41,"x":32,"y":95},{"t":"c","id":41,"x":30,"y":70},{"t":"c","id":41,"x":26,"y":45},{"t":"c","id":41,"x":21,"y":25},{"t":"c","id":41,"x":17,"y":12},
{"t":"c","id":42,"x":44.7,"y":141.7},{"t":"c","id":42,"x":43.5,"y":125},{"t":"c","id":42,"x":41.5,"y":100},{"t":"c","id":42,"x":38.5,"y":75},{"t":"c","id":42,"x":33.5,"y":50},{"t":"c","id":42,"x":27,"y":27},{"t":"c","id":42,"x":20,"y":10},
{"t":"c","id":43,"x":44.7,"y":141.7},{"t":"c","id":43,"x":41,"y":120},{"t":"c","id":43,"x":36,"y":95},{"t":"c","id":43,"x":30,"y":70},{"t":"c","id":43,"x":23,"y":45},{"t":"c","id":43,"x":16,"y":25},{"t":"c","id":43,"x":10,"y":12},
{"t":"c","id":44,"x":44.5,"y":142},{"t":"c","id":44,"x":39.5,"y":125},{"t":"c","id":44,"x":32.5,"y":100},{"t":"c","id":44,"x":25,"y":75},{"t":"c","id":44,"x":17,"y":50},{"t":"c","id":44,"x":10,"y":28},{"t":"c","id":44,"x":5,"y":12},
{"t":"c","id":45,"x":-45.5,"y":141.7},{"t":"c","id":45,"x":-43,"y":122},{"t":"c","id":45,"x":-39.5,"y":97},{"t":"c","id":45,"x":-35,"y":72},{"t":"c","id":45,"x":-29,"y":47},{"t":"c","id":45,"x":-22,"y":26},{"t":"c","id":45,"x":-16,"y":10},
{"t":"c","id":46,"x":-33,"y":144},{"t":"c","id":46,"x":-31,"y":122},{"t":"c","id":46,"x":-28,"y":97},{"t":"c","id":46,"x":-24,"y":72},{"t":"c","id":46,"x":-19,"y":47},{"t":"c","id":46,"x":-13.5,"y":26},{"t":"c","id":46,"x":-9.5,"y":13},
{"t":"c","id":47,"x":-21.6,"y":146.6},{"t":"c","id":47,"x":-20,"y":122},{"t":"c","id":47,"x":-18,"y":97},{"t":"c","id":47,"x":-15.5,"y":72},{"t":"c","id":47,"x":-12.5,"y":47},{"t":"c","id":47,"x":-10,"y":26},{"t":"c","id":47,"x":-8,"y":11},
{"t":"c","id":48,"x":-8.6,"y":148},{"t":"c","id":48,"x":-8,"y":122},{"t":"c","id":48,"x":-7,"y":95},{"t":"c","id":48,"x":-6,"y":67},{"t":"c","id":48,"x":-5,"y":42},{"t":"c","id":48,"x":-3.5,"y":15},
{"t":"c","id":49,"x":7,"y":147.4},{"t":"c","id":49,"x":6.5,"y":122},{"t":"c","id":49,"x":6,"y":95},{"t":"c","id":49,"x":5.5,"y":67},{"t":"c","id":49,"x":4.5,"y":42},{"t":"c","id":49,"x":3,"y":15},
{"t":"c","id":50,"x":16,"y":145},{"t":"c","id":50,"x":15.2,"y":122},{"t":"c","id":50,"x":14.2,"y":97},{"t":"c","id":50,"x":13,"y":72},{"t":"c","id":50,"x":11,"y":47},{"t":"c","id":50,"x":9.5,"y":26},{"t":"c","id":50,"x":9,"y":15},
{"t":"c","id":51,"x":31.7,"y":145},{"t":"c","id":51,"x":29.8,"y":122},{"t":"c","id":51,"x":27,"y":97},{"t":"c","id":51,"x":23.5,"y":72},{"t":"c","id":51,"x":18.8,"y":47},{"t":"c","id":51,"x":13.5,"y":26},{"t":"c","id":51,"x":9,"y":10},
{"t":"c","id":52,"x":44.7,"y":141.7},{"t":"c","id":52,"x":42.3,"y":122},{"t":"c","id":52,"x":38.8,"y":97},{"t":"c","id":52,"x":34.2,"y":72},{"t":"c","id":52,"x":28.3,"y":47},{"t":"c","id":52,"x":21.5,"y":26},{"t":"c","id":52,"x":15,"y":11},
{"t":"h","id":1,"x":-2,"y":147},{"t":"h","id":1,"x":-3,"y":135},{"t":"h","id":1,"x":-5,"y":115},{"t":"h","id":1,"x":-8,"y":90},{"t":"h","id":1,"x":-11,"y":65},{"t":"h","id":1,"x":-14,"y":40},{"t":"h","id":1,"x":-17.7,"y":10.7},
{"t":"h","id":2,"x":2,"y":147},{"t":"h","id":2,"x":4,"y":135},{"t":"h","id":2,"x":7,"y":115},{"t":"h","id":2,"x":11,"y":90},{"t":"h","id":2,"x":15,"y":65},{"t":"h","id":2,"x":19,"y":40},{"t":"h","id":2,"x":24,"y":16},
{"t":"h","id":3,"x":-1,"y":147},{"t":"h","id":3,"x":-3,"y":140},{"t":"h","id":3,"x":-6,"y":120},{"t":"h","id":3,"x":-8,"y":95},{"t":"h","id":3,"x":-8.5,"y":70},{"t":"h","id":3,"x":-9,"y":45},{"t":"h","id":3,"x":-11,"y":20},{"t":"h","id":3,"x":-13.8,"y":-3.6},
{"t":"h","id":4,"x":0,"y":147},{"t":"h","id":4,"x":-2,"y":140},{"t":"h","id":4,"x":-5,"y":120},{"t":"h","id":4,"x":-7,"y":95},{"t":"h","id":4,"x":-6.5,"y":70},{"t":"h","id":4,"x":-7,"y":45},{"t":"h","id":4,"x":-8,"y":20},{"t":"h","id":4,"x":-8.6,"y":2.9},
{"t":"h","id":5,"x":-1,"y":147},{"t":"h","id":5,"x":-1.5,"y":140},{"t":"h","id":5,"x":-3,"y":120},{"t":"h","id":5,"x":-4,"y":95},{"t":"h","id":5,"x":-4,"y":70},{"t":"h","id":5,"x":-4.5,"y":40},{"t":"h","id":5,"x":-4.5,"y":15},{"t":"h","id":5,"x":-4.7,"y":-7.5},
{"t":"h","id":6,"x":0,"y":147},{"t":"h","id":6,"x":0,"y":140},{"t":"h","id":6,"x":-1,"y":120},{"t":"h","id":6,"x":-1,"y":95},{"t":"h","id":6,"x":0,"y":70},{"t":"h","id":6,"x":0,"y":40},{"t":"h","id":6,"x":0.5,"y":10},{"t":"h","id":6,"x":0.5,"y":-10},
{"t":"h","id":7,"x":1,"y":147},{"t":"h","id":7,"x":1.5,"y":140},{"t":"h","id":7,"x":2,"y":120},{"t":"h","id":7,"x":3,"y":95},{"t":"h","id":7,"x":3.5,"y":70},{"t":"h","id":7,"x":4,"y":40},{"t":"h","id":7,"x":4.5,"y":15},{"t":"h","id":7,"x":4.4,"y":-7.5},
{"t":"h","id":8,"x":2,"y":147},{"t":"h","id":8,"x":3,"y":140},{"t":"h","id":8,"x":4.5,"y":120},{"t":"h","id":8,"x":5.5,"y":95},{"t":"h","id":8,"x":7,"y":70},{"t":"h","id":8,"x":8,"y":45},{"t":"h","id":8,"x":9.5,"y":20},{"t":"h","id":8,"x":9.6,"y":-2.3},
{"t":"h","id":9,"x":1,"y":147},{"t":"h","id":9,"x":2,"y":140},{"t":"h","id":9,"x":4,"y":120},{"t":"h","id":9,"x":5,"y":95},{"t":"h","id":9,"x":6,"y":70},{"t":"h","id":9,"x":6.5,"y":45},{"t":"h","id":9,"x":7,"y":25},{"t":"h","id":9,"x":7,"y":8},
{"t":"h","id":10,"x":-2,"y":147},{"t":"h","id":10,"x":-3,"y":140},{"t":"h","id":10,"x":-5,"y":120},{"t":"h","id":10,"x":-3,"y":95},{"t":"h","id":10,"x":-2,"y":70},{"t":"h","id":10,"x":-2.5,"y":40},{"t":"h","id":10,"x":-2,"y":15},{"t":"h","id":10,"x":-2,"y":0},
{"t":"h","id":11,"x":1,"y":147},{"t":"h","id":11,"x":2,"y":140},{"t":"h","id":11,"x":3,"y":120},{"t":"h","id":11,"x":5,"y":95},{"t":"h","id":11,"x":6.5,"y":70},{"t":"h","id":11,"x":8.5,"y":45},{"t":"h","id":11,"x":10.5,"y":25},{"t":"h","id":11,"x":12,"y":5},
{"t":"h","id":12,"x":-1,"y":147},{"t":"h","id":12,"x":-3,"y":140},{"t":"h","id":12,"x":-6,"y":120},{"t":"h","id":12,"x":-8.5,"y":95},{"t":"h","id":12,"x":-7,"y":70},{"t":"h","id":12,"x":-8,"y":45},{"t":"h","id":12,"x":-9.5,"y":25},{"t":"h","id":12,"x":-11,"y":10},
{"t":"h","id":13,"x":0,"y":147},{"t":"h","id":13,"x":-1,"y":140},{"t":"h","id":13,"x":-2.5,"y":120},{"t":"h","id":13,"x":-2.5,"y":95},{"t":"h","id":13,"x":-1.5,"y":70},{"t":"h","id":13,"x":-1,"y":40},{"t":"h","id":13,"x":-1,"y":15},{"t":"h","id":13,"x":-1,"y":-6},
{"t":"h","id":14,"x":1.5,"y":147},{"t":"h","id":14,"x":2.5,"y":140},{"t":"h","id":14,"x":3.5,"y":120},{"t":"h","id":14,"x":4,"y":95},{"t":"h","id":14,"x":5,"y":70},{"t":"h","id":14,"x":5,"y":45},{"t":"h","id":14,"x":5.5,"y":20},{"t":"h","id":14,"x":6,"y":0},
{"t":"h","id":15,"x":-1.5,"y":147},{"t":"h","id":15,"x":-2.5,"y":140},{"t":"h","id":15,"x":-4,"y":120},{"t":"h","id":15,"x":-5.5,"y":95},{"t":"h","id":15,"x":-5,"y":70},{"t":"h","id":15,"x":-5.5,"y":45},{"t":"h","id":15,"x":-6,"y":20},{"t":"h","id":15,"x":-6.5,"y":-4},
{"t":"h","id":16,"x":0.5,"y":147},{"t":"h","id":16,"x":1,"y":140},{"t":"h","id":16,"x":1.5,"y":120},{"t":"h","id":16,"x":2,"y":95},{"t":"h","id":16,"x":2,"y":70},{"t":"h","id":16,"x":2,"y":40},{"t":"h","id":16,"x":2.5,"y":15},{"t":"h","id":16,"x":2.5,"y":-9}
]
},
"hconcat": [
{
"width": 305, "height": 403,
"layer": [
{"data": {"name": "bars"}, "transform": [{"filter": "datum.cond == 'Out'"}],
 "mark": {"type": "bar", "fill": "#939598", "stroke": "#454545", "strokeWidth": 1},
 "encoding": {
  "x": {"field": "cond", "type": "nominal", "scale": {"domain": ["Out","Back"], "paddingInner": 0.195, "paddingOuter": 0.195},
        "axis": {"orient": "bottom", "labelFontStyle": "italic", "labelAngle": 0, "labelPadding": 39, "labelBaseline": "alphabetic", "title": ")", "titleAngle": 0, "titleX": -54.3, "titleY": -423.3}},
  "y": {"field": "mean", "type": "quantitative", "scale": {"domain": [0, 1.15], "nice": false},
        "axis": {"orient": "left", "values": [0,0.2,0.4,0.6,0.8,1], "labelExpr": "datum.value == 0 ? '0' : format(datum.value, '.1f')", "labelPadding": 12,
                 "title": "integration strength", "titleFontSize": 23, "titleAlign": "center", "titleX": -53, "titleY": 208}}
 }},
{"data": {"name": "bars"}, "transform": [{"filter": "datum.cond == 'Back'"}],
 "mark": {"type": "bar", "stroke": "#454545", "strokeWidth": 1,
   "fill": {"gradient": "linear", "x1": 0, "y1": 0, "x2": 0.677, "y2": 1.185, "stops": [
    {"offset":0,"color":"#939598"},
    {"offset":0.0200,"color":"#939598"},{"offset":0.0200,"color":"#3c3c3c"},{"offset":0.0255,"color":"#3c3c3c"},{"offset":0.0255,"color":"#939598"},
    {"offset":0.0617,"color":"#939598"},{"offset":0.0617,"color":"#3c3c3c"},{"offset":0.0672,"color":"#3c3c3c"},{"offset":0.0672,"color":"#939598"},
    {"offset":0.1033,"color":"#939598"},{"offset":0.1033,"color":"#3c3c3c"},{"offset":0.1088,"color":"#3c3c3c"},{"offset":0.1088,"color":"#939598"},
    {"offset":0.1450,"color":"#939598"},{"offset":0.1450,"color":"#3c3c3c"},{"offset":0.1505,"color":"#3c3c3c"},{"offset":0.1505,"color":"#939598"},
    {"offset":0.1867,"color":"#939598"},{"offset":0.1867,"color":"#3c3c3c"},{"offset":0.1922,"color":"#3c3c3c"},{"offset":0.1922,"color":"#939598"},
    {"offset":0.2283,"color":"#939598"},{"offset":0.2283,"color":"#3c3c3c"},{"offset":0.2338,"color":"#3c3c3c"},{"offset":0.2338,"color":"#939598"},
    {"offset":0.2700,"color":"#939598"},{"offset":0.2700,"color":"#3c3c3c"},{"offset":0.2755,"color":"#3c3c3c"},{"offset":0.2755,"color":"#939598"},
    {"offset":0.3117,"color":"#939598"},{"offset":0.3117,"color":"#3c3c3c"},{"offset":0.3172,"color":"#3c3c3c"},{"offset":0.3172,"color":"#939598"},
    {"offset":0.3533,"color":"#939598"},{"offset":0.3533,"color":"#3c3c3c"},{"offset":0.3588,"color":"#3c3c3c"},{"offset":0.3588,"color":"#939598"},
    {"offset":0.3950,"color":"#939598"},{"offset":0.3950,"color":"#3c3c3c"},{"offset":0.4005,"color":"#3c3c3c"},{"offset":0.4005,"color":"#939598"},
    {"offset":0.4367,"color":"#939598"},{"offset":0.4367,"color":"#3c3c3c"},{"offset":0.4422,"color":"#3c3c3c"},{"offset":0.4422,"color":"#939598"},
    {"offset":0.4783,"color":"#939598"},{"offset":0.4783,"color":"#3c3c3c"},{"offset":0.4838,"color":"#3c3c3c"},{"offset":0.4838,"color":"#939598"},
    {"offset":0.5200,"color":"#939598"},{"offset":0.5200,"color":"#3c3c3c"},{"offset":0.5255,"color":"#3c3c3c"},{"offset":0.5255,"color":"#939598"},
    {"offset":0.5617,"color":"#939598"},{"offset":0.5617,"color":"#3c3c3c"},{"offset":0.5672,"color":"#3c3c3c"},{"offset":0.5672,"color":"#939598"},
    {"offset":0.6033,"color":"#939598"},{"offset":0.6033,"color":"#3c3c3c"},{"offset":0.6088,"color":"#3c3c3c"},{"offset":0.6088,"color":"#939598"},
    {"offset":0.6450,"color":"#939598"},{"offset":0.6450,"color":"#3c3c3c"},{"offset":0.6505,"color":"#3c3c3c"},{"offset":0.6505,"color":"#939598"},
    {"offset":0.6867,"color":"#939598"},{"offset":0.6867,"color":"#3c3c3c"},{"offset":0.6922,"color":"#3c3c3c"},{"offset":0.6922,"color":"#939598"},
    {"offset":0.7283,"color":"#939598"},{"offset":0.7283,"color":"#3c3c3c"},{"offset":0.7338,"color":"#3c3c3c"},{"offset":0.7338,"color":"#939598"},
    {"offset":0.7700,"color":"#939598"},{"offset":0.7700,"color":"#3c3c3c"},{"offset":0.7755,"color":"#3c3c3c"},{"offset":0.7755,"color":"#939598"},
    {"offset":0.8117,"color":"#939598"},{"offset":0.8117,"color":"#3c3c3c"},{"offset":0.8172,"color":"#3c3c3c"},{"offset":0.8172,"color":"#939598"},
    {"offset":0.8533,"color":"#939598"},{"offset":0.8533,"color":"#3c3c3c"},{"offset":0.8588,"color":"#3c3c3c"},{"offset":0.8588,"color":"#939598"},
    {"offset":0.8950,"color":"#939598"},{"offset":0.8950,"color":"#3c3c3c"},{"offset":0.9005,"color":"#3c3c3c"},{"offset":0.9005,"color":"#939598"},
    {"offset":0.9367,"color":"#939598"},{"offset":0.9367,"color":"#3c3c3c"},{"offset":0.9422,"color":"#3c3c3c"},{"offset":0.9422,"color":"#939598"},
    {"offset":0.9783,"color":"#939598"},{"offset":0.9783,"color":"#3c3c3c"},{"offset":0.9838,"color":"#3c3c3c"},{"offset":0.9838,"color":"#939598"},
    {"offset":1,"color":"#939598"}]}},
 "encoding": {
  "x": {"field": "cond", "type": "nominal", "scale": {"domain": ["Out","Back"], "paddingInner": 0.195, "paddingOuter": 0.195},
        "axis": {"orient": "top", "labels": false, "title": "(", "titleAngle": 0, "titleX": -74.3, "titleY": -20.3}},
  "y": {"field": "mean", "type": "quantitative", "scale": {"domain": [0, 1.15], "nice": false},
        "axis": {"orient": "right", "labels": false, "values": [0,0.2,0.4,0.6,0.8,1], "title": "a", "titleAngle": 0, "titleFontStyle": "italic", "titleFontSize": 23, "titleX": -371.3, "titleY": -20.3}}
 }},
{"data": {"name": "subj"},
 "mark": {"type": "line", "stroke": "#a9a9a9", "strokeWidth": 1.2, "xOffset": 21, "clip": true},
 "encoding": {
  "x": {"field": "cond", "type": "nominal", "scale": {"domain": ["Out","Back"], "paddingInner": 0.195, "paddingOuter": 0.195}, "axis": null},
  "y": {"field": "v", "type": "quantitative", "scale": {"domain": [0, 1.15], "nice": false}, "axis": null},
  "detail": {"field": "s"}
 }},
{"data": {"name": "subj"},
 "mark": {"type": "circle", "fill": "#a9a9a9", "opacity": 1, "size": 10, "xOffset": 21, "clip": true},
 "encoding": {
  "x": {"field": "cond", "type": "nominal", "scale": {"domain": ["Out","Back"], "paddingInner": 0.195, "paddingOuter": 0.195}, "axis": null},
  "y": {"field": "v", "type": "quantitative", "scale": {"domain": [0, 1.15], "nice": false}, "axis": null}
 }},
{"data": {"name": "bars"},
 "mark": {"type": "rule", "stroke": "#6d6e71", "strokeWidth": 3.5},
 "encoding": {
  "x": {"field": "cond", "type": "nominal", "scale": {"domain": ["Out","Back"], "paddingInner": 0.195, "paddingOuter": 0.195}, "axis": null},
  "y": {"field": "lo", "type": "quantitative", "scale": {"domain": [0, 1.15], "nice": false}, "axis": null},
  "y2": {"field": "hi"}
 }},
{"data": {"name": "bars"},
 "mark": {"type": "tick", "orient": "horizontal", "color": "#6d6e71", "opacity": 1, "size": 12, "thickness": 3.5},
 "encoding": {
  "x": {"field": "cond", "type": "nominal", "scale": {"domain": ["Out","Back"], "paddingInner": 0.195, "paddingOuter": 0.195}, "axis": null},
  "y": {"field": "lo", "type": "quantitative", "scale": {"domain": [0, 1.15], "nice": false}, "axis": null}
 }},
{"data": {"name": "bars"},
 "mark": {"type": "tick", "orient": "horizontal", "color": "#6d6e71", "opacity": 1, "size": 12, "thickness": 3.5},
 "encoding": {
  "x": {"field": "cond", "type": "nominal", "scale": {"domain": ["Out","Back"], "paddingInner": 0.195, "paddingOuter": 0.195}, "axis": null},
  "y": {"field": "hi", "type": "quantitative", "scale": {"domain": [0, 1.15], "nice": false}, "axis": null}
 }}
]
},
{
"vconcat": [
{"hconcat": [
 {"width": 158, "height": 235, "data": {"name": "b"},
  "layer": [
   {"transform": [{"filter": "datum.t == 'c'"}],
    "mark": {"type": "line", "interpolate": "catmull-rom", "strokeWidth": 3.2, "clip": true},
    "encoding": {
     "x": {"field": "x", "type": "quantitative", "scale": {"domain": [-60.3, 60.3], "nice": false, "zero": false},
           "axis": {"orient": "bottom", "values": [-50,-25,0,25,50], "labelPadding": 36, "labelBaseline": "alphabetic", "title": "b", "titleAngle": 0, "titleFontStyle": "italic", "titleFontSize": 23, "titleX": -96.3, "titleY": -257}},
     "y": {"field": "y", "type": "quantitative", "scale": {"domain": [-25, 154.6], "nice": false, "zero": false},
           "axis": {"orient": "left", "values": [-25,0,25,50,75,100,125,150], "labelPadding": 17, "title": "(", "titleAngle": 0, "titleFontSize": 24.5, "titleX": -104.3, "titleY": -22}},
     "color": {"field": "t", "type": "nominal", "scale": {"domain": ["h","c"], "range": ["#878787","#c4c4c4"]}, "title": "\u00a0", "legend": {"labelExpr": "datum.label == 'h' ? 'hand trajectory' : 'cursor trajectory'"}},
     "detail": {"field": "id"}, "order": {"value": null}}},
   {"transform": [{"filter": "datum.t == 'h'"}],
    "mark": {"type": "line", "interpolate": "catmull-rom", "strokeWidth": 3.2, "clip": true},
    "encoding": {
     "x": {"field": "x", "type": "quantitative", "scale": {"domain": [-60.3, 60.3], "nice": false, "zero": false},
           "axis": {"orient": "top", "values": [-50,-25,0,25,50], "labels": false, "title": ") outward trajectory", "titleAngle": 0, "titleFontSize": 24.5, "titleX": -86, "titleY": -22}},
     "y": {"field": "y", "type": "quantitative", "scale": {"domain": [-25, 154.6], "nice": false, "zero": false},
           "axis": {"orient": "right", "values": [-25,0,25,50,75,100,125,150], "labels": false, "title": "UniHand", "titleAngle": 0, "titleFontStyle": "italic", "titleFontSize": 23, "titleX": -31, "titleY": -22}},
     "color": {"field": "t", "type": "nominal", "scale": {"domain": ["h","c"], "range": ["#878787","#c4c4c4"]}, "title": "\u00a0", "legend": {"labelExpr": "datum.label == 'h' ? 'hand trajectory' : 'cursor trajectory'"}},
     "detail": {"field": "id"}, "order": {"value": null}}}
  ]},
 {"width": 158, "height": 235, "data": {"name": "c"},
  "layer": [
   {"transform": [{"filter": "datum.t == 'c'"}],
    "mark": {"type": "line", "interpolate": "catmull-rom", "strokeWidth": 3.2, "clip": true},
    "encoding": {
     "x": {"field": "x", "type": "quantitative", "scale": {"domain": [-60.3, 60.3], "nice": false, "zero": false},
           "axis": {"orient": "bottom", "values": [-50,-25,0,25,50], "labelPadding": 36, "labelBaseline": "alphabetic", "title": "c", "titleAngle": 0, "titleFontStyle": "italic", "titleFontSize": 23, "titleX": -89, "titleY": -257}},
     "y": {"field": "y", "type": "quantitative", "scale": {"domain": [-25, 154.6], "nice": false, "zero": false},
           "axis": {"orient": "left", "values": [-25,0,25,50,75,100,125,150], "labelPadding": 17, "title": "(", "titleAngle": 0, "titleFontSize": 24.5, "titleX": -96, "titleY": -22}},
     "color": {"field": "t", "type": "nominal", "scale": {"domain": ["h","c"], "range": ["#878787","#c4c4c4"]}, "title": "\u00a0", "legend": {"labelExpr": "datum.label == 'h' ? 'hand trajectory' : 'cursor trajectory'"}},
     "detail": {"field": "id"}, "order": {"value": null}}},
   {"transform": [{"filter": "datum.t == 'h'"}],
    "mark": {"type": "line", "interpolate": "catmull-rom", "strokeWidth": 3.2, "clip": true},
    "encoding": {
     "x": {"field": "x", "type": "quantitative", "scale": {"domain": [-60.3, 60.3], "nice": false, "zero": false},
           "axis": {"orient": "top", "values": [-50,-25,0,25,50], "labels": false, "title": ")\u00a0\u00a0outward trajectory", "titleAngle": 0, "titleFontSize": 24.5, "titleX": -78, "titleY": -22}},
     "y": {"field": "y", "type": "quantitative", "scale": {"domain": [-25, 154.6], "nice": false, "zero": false},
           "axis": {"orient": "right", "values": [-25,0,25,50,75,100,125,150], "labels": false, "title": "BiHand", "titleAngle": 0, "titleFontStyle": "italic", "titleFontSize": 23, "titleX": -19, "titleY": -22}},
     "color": {"field": "t", "type": "nominal", "scale": {"domain": ["h","c"], "range": ["#878787","#c4c4c4"]}, "title": "\u00a0", "legend": {"labelExpr": "datum.label == 'h' ? 'hand trajectory' : 'cursor trajectory'"}},
     "detail": {"field": "id"}, "order": {"value": null}}}
  ]}
], "spacing": 178, "bounds": "flush"},
{"hconcat": [
 {"width": 155, "height": 233, "data": {"name": "d"},
  "layer": [
   {"transform": [{"filter": "datum.t == 'c'"}],
    "mark": {"type": "line", "interpolate": "catmull-rom", "strokeWidth": 3.2, "clip": true},
    "encoding": {
     "x": {"field": "x", "type": "quantitative", "scale": {"domain": [-60.5, 60.5], "nice": false, "zero": false},
           "axis": {"orient": "bottom", "values": [-50,-25,0,25,50], "labelPadding": 25, "labelBaseline": "alphabetic", "title": "d", "titleAngle": 0, "titleFontStyle": "italic", "titleFontSize": 23, "titleX": -94.3, "titleY": -249.7}},
     "y": {"field": "y", "type": "quantitative", "scale": {"domain": [-25, 157], "nice": false, "zero": false},
           "axis": {"orient": "left", "values": [-25,0,25,50,75,100,125,150], "labelPadding": 17, "title": "(", "titleAngle": 0, "titleFontSize": 24.5, "titleX": -102.3, "titleY": -16.7}},
     "color": {"field": "t", "type": "nominal", "scale": {"domain": ["h","c"], "range": ["#878787","#c4c4c4"]}, "title": "\u00a0", "legend": {"labelExpr": "datum.label == 'h' ? 'hand trajectory' : 'cursor trajectory'"}},
     "detail": {"field": "id"}, "order": {"value": null}}},
   {"transform": [{"filter": "datum.t == 'h'"}],
    "mark": {"type": "line", "interpolate": "catmull-rom", "strokeWidth": 3.2, "clip": true},
    "encoding": {
     "x": {"field": "x", "type": "quantitative", "scale": {"domain": [-60.5, 60.5], "nice": false, "zero": false},
           "axis": {"orient": "top", "values": [-50,-25,0,25,50], "labels": false, "title": ") backward trajectory", "titleAngle": 0, "titleFontSize": 24.5, "titleX": -84, "titleY": -16.7}},
     "y": {"field": "y", "type": "quantitative", "scale": {"domain": [-25, 157], "nice": false, "zero": false},
           "axis": {"orient": "right", "values": [-25,0,25,50,75,100,125,150], "labels": false, "title": "UniHand", "titleAngle": 0, "titleFontStyle": "italic", "titleFontSize": 23, "titleX": -19.7, "titleY": -16.7}},
     "color": {"field": "t", "type": "nominal", "scale": {"domain": ["h","c"], "range": ["#878787","#c4c4c4"]}, "title": "\u00a0", "legend": {"labelExpr": "datum.label == 'h' ? 'hand trajectory' : 'cursor trajectory'"}},
     "detail": {"field": "id"}, "order": {"value": null}}}
  ]},
 {"width": 155, "height": 233, "data": {"name": "e"},
  "layer": [
   {"transform": [{"filter": "datum.t == 'c'"}],
    "mark": {"type": "line", "interpolate": "catmull-rom", "strokeWidth": 3.2, "clip": true},
    "encoding": {
     "x": {"field": "x", "type": "quantitative", "scale": {"domain": [-60.5, 60.5], "nice": false, "zero": false},
           "axis": {"orient": "bottom", "values": [-50,-25,0,25,50], "labelPadding": 25, "labelBaseline": "alphabetic", "title": "e", "titleAngle": 0, "titleFontStyle": "italic", "titleFontSize": 23, "titleX": -85, "titleY": -249.7}},
     "y": {"field": "y", "type": "quantitative", "scale": {"domain": [-25, 157], "nice": false, "zero": false},
           "axis": {"orient": "left", "values": [-25,0,25,50,75,100,125,150], "labelPadding": 17, "title": "(", "titleAngle": 0, "titleFontSize": 24.5, "titleX": -93, "titleY": -16.7}},
     "color": {"field": "t", "type": "nominal", "scale": {"domain": ["h","c"], "range": ["#878787","#c4c4c4"]}, "title": "\u00a0", "legend": {"labelExpr": "datum.label == 'h' ? 'hand trajectory' : 'cursor trajectory'"}},
     "detail": {"field": "id"}, "order": {"value": null}}},
   {"transform": [{"filter": "datum.t == 'h'"}],
    "mark": {"type": "line", "interpolate": "catmull-rom", "strokeWidth": 3.2, "clip": true},
    "encoding": {
     "x": {"field": "x", "type": "quantitative", "scale": {"domain": [-60.5, 60.5], "nice": false, "zero": false},
           "axis": {"orient": "top", "values": [-50,-25,0,25,50], "labels": false, "title": ") backward trajectory", "titleAngle": 0, "titleFontSize": 24.5, "titleX": -75, "titleY": -16.7}},
     "y": {"field": "y", "type": "quantitative", "scale": {"domain": [-25, 157], "nice": false, "zero": false},
           "axis": {"orient": "right", "values": [-25,0,25,50,75,100,125,150], "labels": false, "title": "BiHand", "titleAngle": 0, "titleFontStyle": "italic", "titleFontSize": 23, "titleX": -10, "titleY": -16.7}},
     "color": {"field": "t", "type": "nominal", "scale": {"domain": ["h","c"], "range": ["#878787","#c4c4c4"]}, "title": "\u00a0", "legend": {"labelExpr": "datum.label == 'h' ? 'hand trajectory' : 'cursor trajectory'"}},
     "detail": {"field": "id"}, "order": {"value": null}}}
  ]}
], "spacing": 180, "bounds": "flush"}
], "spacing": 24
}
],
"spacing": 19,
"config": {
 "font": "Liberation Serif",
 "view": {"stroke": "#6d6d6d", "strokeWidth": 1.5},
 "axis": {"domain": false, "grid": false, "tickSize": -6, "tickColor": "#6d6d6d", "tickWidth": 1.3,
          "labelFont": "Liberation Serif", "labelFontSize": 23, "labelColor": "#1a1a1a",
          "titleFont": "Liberation Serif", "titleFontSize": 24, "titleFontWeight": "normal", "titleColor": "#1a1a1a",
          "labelOverlap": false, "labelFlush": false, "labelBound": false,
          "titleAlign": "left", "titleBaseline": "alphabetic", "titlePadding": 0},
 "legend": {"orient": "none", "legendX": -3, "legendY": 474, "padding": 9.5, "strokeColor": "#6d6d6d", "strokeWidth": 1.5,
            "symbolType": "M -2.56 0 L 2.56 0 M 4.35 0", "symbolSize": 529, "symbolStrokeWidth": 2.5,
            "labelFont": "Liberation Serif", "labelFontSize": 24, "labelColor": "#1a1a1a", "labelAlign": "right", "labelOffset": -53, "symbolOffset": 221.5, "labelLimit": 400,
            "rowPadding": 4, "titleOrient": "bottom", "titleFontSize": 12, "titlePadding": 5, "titleLimit": 400}
}
}
